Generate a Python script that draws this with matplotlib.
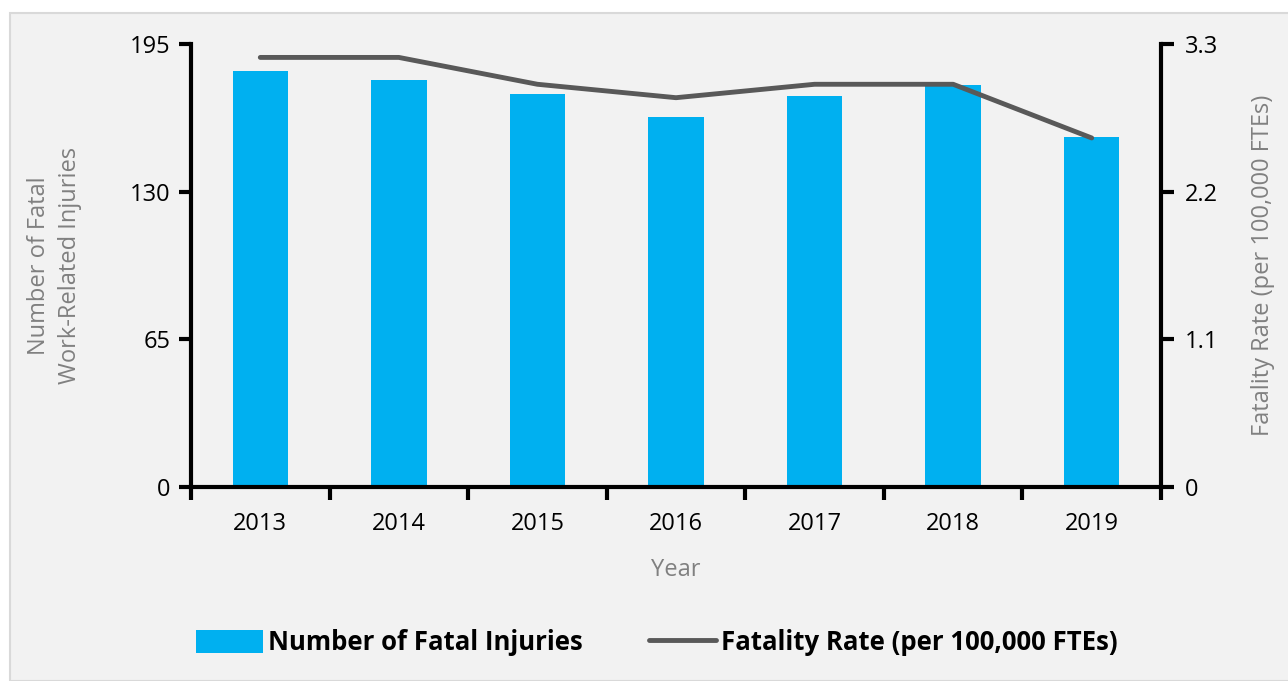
import numpy as np
import matplotlib
matplotlib.use("Agg")
from matplotlib import pyplot as plt
from matplotlib.patches import Rectangle

plt.rcParams["font.family"] = ["Open Sans", "DejaVu Sans"]

years = ["2013", "2014", "2015", "2016", "2017", "2018", "2019"]
fatal_injuries = [183, 179, 173, 163, 172, 177, 154]
fatality_rate = [3.2, 3.2, 3.0, 2.9, 3.0, 3.0, 2.6]

BAR_COLOR = "#00b0f0"
LINE_COLOR = "#595959"
LABEL_GRAY = "#808080"

fig = plt.figure(figsize=(12.88, 6.81), dpi=100)
fig.patch.set_facecolor("white")
fig.patches.append(Rectangle((10 / 1288, 0), 1.0, 1 - 13 / 681,
                             transform=fig.transFigure, facecolor="#f2f2f2",
                             edgecolor="#d9d9d9", linewidth=1.5, zorder=-10))

ax = fig.add_axes([191 / 1288, 1 - 487 / 681, 970 / 1288, 443 / 681])
ax.set_facecolor("none")
ax2 = ax.twinx()

x = np.arange(len(years))
bars = ax.bar(x, fatal_injuries, 0.4, color=BAR_COLOR, label="Number of Fatal Injuries", zorder=2)
line, = ax2.plot(x, fatality_rate, color=LINE_COLOR, lw=3.5, solid_capstyle="round",
                 label="Fatality Rate (per 100,000 FTEs)")

ax.set_xlim(-0.5, 6.5)
ax.set_ylim(0, 195)
ax.set_yticks([0, 65, 130, 195])
ax2.set_ylim(0, 3.3)
ax2.set_yticks([0, 1.1, 2.2, 3.3])
ax2.set_yticklabels(["0", "1.1", "2.2", "3.3"])

# boundary ticks between years, labels centred on the bars
ax.set_xticks(np.arange(-0.5, 7, 1))
ax.set_xticklabels([])
ax.set_xticks(x, minor=True)
ax.set_xticklabels(years, minor=True)
ax.tick_params(axis="x", which="minor", length=0, pad=18, labelsize=17)
ax.tick_params(axis="x", which="major", length=9, width=3, direction="out")
ax.tick_params(axis="y", length=9, width=3, direction="out", labelsize=17, pad=6)
ax2.tick_params(axis="y", length=9, width=3, direction="out", labelsize=17, pad=8)

for a in (ax, ax2):
    a.spines["top"].set_visible(False)
    for s in a.spines.values():
        s.set_linewidth(3)
ax.spines["right"].set_visible(False)
ax2.spines["left"].set_visible(False)
ax2.spines["bottom"].set_visible(False)

ax.set_xlabel("Year", color=LABEL_GRAY, fontsize=17, labelpad=16)
ax.set_ylabel("Number of Fatal\nWork-Related Injuries", color=LABEL_GRAY, fontsize=17,
              labelpad=34, linespacing=1.4)
ax2.set_ylabel("Fatality Rate (per 100,000 FTEs)", color=LABEL_GRAY, fontsize=17, labelpad=24)

fig.legend([bars, line], ["Number of Fatal Injuries", "Fatality Rate (per 100,000 FTEs)"],
           loc="center", bbox_to_anchor=(0.51, 1 - 643 / 681), ncol=2, frameon=False,
           prop={"weight": "bold", "size": 18.5}, handlelength=2.6, handleheight=1.0,
           columnspacing=2.6, handletextpad=0.2)

fig.savefig("out.png", dpi=100)
